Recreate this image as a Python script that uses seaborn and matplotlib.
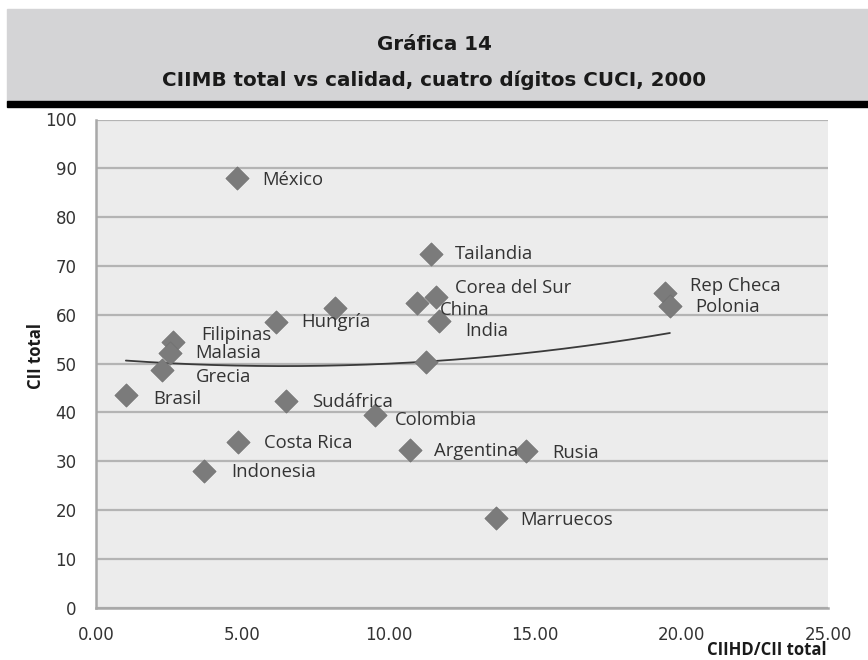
import numpy as np
import pandas as pd
import matplotlib
matplotlib.use("Agg")
import matplotlib.pyplot as plt
import seaborn as sns
from matplotlib.patches import Rectangle
from matplotlib.ticker import FormatStrFormatter

# datos
paises = ["México", "Tailandia", "Corea del Sur", "China", "India", "Otro 1",
          "Hungría", "Otro 2", "Filipinas", "Malasia", "Grecia", "Brasil",
          "Sudáfrica", "Colombia", "Costa Rica", "Indonesia", "Argentina",
          "Rusia", "Marruecos", "Rep Checa", "Polonia"]
calidad = [4.80, 11.43, 11.60, 10.95, 11.72, 11.27,
           6.14, 8.16, 2.64, 2.53, 2.26, 1.02,
           6.49, 9.53, 4.86, 3.69, 10.72,
           14.69, 13.65, 19.43, 19.60]
cii_total = [88.0, 72.4, 63.7, 62.5, 58.8, 50.4,
             58.6, 61.3, 54.5, 52.1, 48.6, 43.6,
             42.4, 39.5, 33.9, 27.9, 32.2,
             32.0, 18.3, 64.4, 61.8]

x_ticks = [0, 5, 10, 15, 20, 25]
y_ticks = [0, 10, 20, 30, 40, 50, 60, 70, 80, 90, 100]

# desplazamiento de cada etiqueta respecto a su punto (pixeles)
offsets = {
    "México": (26, -2), "Tailandia": (24, 0), "Corea del Sur": (19, 9),
    "China": (23, -7), "India": (26, -10), "Hungría": (25, 0),
    "Filipinas": (28, 7), "Malasia": (25, 0), "Grecia": (34, -7),
    "Brasil": (27, -4), "Sudáfrica": (26, -1), "Colombia": (20, -5),
    "Costa Rica": (26, -1), "Indonesia": (27, -1), "Argentina": (24, -1),
    "Rusia": (26, -2), "Marruecos": (25, -2), "Rep Checa": (25, 7),
    "Polonia": (25, -1),
}

df = pd.DataFrame({"pais": paises, "calidad": calidad, "cii": cii_total})

sns.set_theme(style="white")
plt.rcParams["font.family"] = ["DejaVu Sans"]

fig = plt.figure(figsize=(8.68, 6.6), dpi=100)
ax = fig.add_axes([96 / 868, 1 - 607.7 / 660, (828 - 96) / 868, (607.7 - 119.5) / 660])
ax.set_facecolor("#ececec")

# encabezado gris con linea negra
fig.patches.append(Rectangle((7 / 868, 1 - 101 / 660), 1, 92 / 660,
                             transform=fig.transFigure, color="#d4d4d6", zorder=0))
fig.patches.append(Rectangle((7 / 868, 1 - 106.5 / 660), 1, 5.5 / 660,
                             transform=fig.transFigure, color="black", zorder=1))
fig.text(0.5, 1 - 44 / 660, "Gráfica 14", ha="center", va="center",
         fontsize=14.3, fontweight="bold", color="#1a1a1a")
fig.text(0.5, 1 - 80 / 660, "CIIMB total vs calidad, cuatro dígitos CUCI, 2000",
         ha="center", va="center", fontsize=14.3, fontweight="bold", color="#1a1a1a")

# linea de tendencia polinomica (grado 2)
coef = np.polyfit(df["calidad"], df["cii"], 2)
xs = np.linspace(df["calidad"].min(), df["calidad"].max(), 200)
ax.plot(xs, np.polyval(coef, xs), color="#3a3a3a", lw=1.3, zorder=3)

sns.scatterplot(data=df, x="calidad", y="cii", marker="D", s=140,
                color="#7b7b7b", edgecolor="#707070", linewidth=0.5,
                ax=ax, zorder=4, legend=False)

for p, xv, yv in zip(paises, calidad, cii_total):
    if p not in offsets:
        continue
    dx, dy = offsets[p]
    ax.annotate(p, (xv, yv), xytext=(dx, dy), textcoords="offset pixels",
                ha="left", va="center", fontsize=13.3, color="#333333",
                family=["Open Sans", "DejaVu Sans"], zorder=5)

ax.set_xlim(0, 25)
ax.set_ylim(0, 100)
ax.set_xticks(x_ticks)
ax.set_yticks(y_ticks)
ax.xaxis.set_major_formatter(FormatStrFormatter("%.2f"))
ax.yaxis.grid(True, color="#b4b4b4", lw=1.6)
ax.xaxis.grid(False)
ax.set_axisbelow(True)
for s in ["top", "right"]:
    ax.spines[s].set_visible(False)
for s in ["left", "bottom"]:
    ax.spines[s].set_color("#a8a8a8")
    ax.spines[s].set_linewidth(1.8)
ax.tick_params(axis="both", colors="#a8a8a8", labelcolor="#333333",
               labelsize=12, direction="out", width=1.4)
ax.tick_params(axis="y", length=6, pad=8)
ax.tick_params(axis="x", length=4, pad=9)
ax.set_xlabel("")
ax.set_ylabel("")

fig.text(36 / 868, 1 - 356 / 660, "CII total", rotation=90, ha="center", va="center",
         fontsize=12, fontweight="bold", color="#1a1a1a",
         family=["Open Sans", "DejaVu Sans"])
fig.text(827 / 868, 1 - 650 / 660, "CIIHD/CII total", ha="right", va="center",
         fontsize=12, fontweight="bold", color="#1a1a1a",
         family=["Open Sans", "DejaVu Sans"])

fig.savefig("out.png", dpi=100)
